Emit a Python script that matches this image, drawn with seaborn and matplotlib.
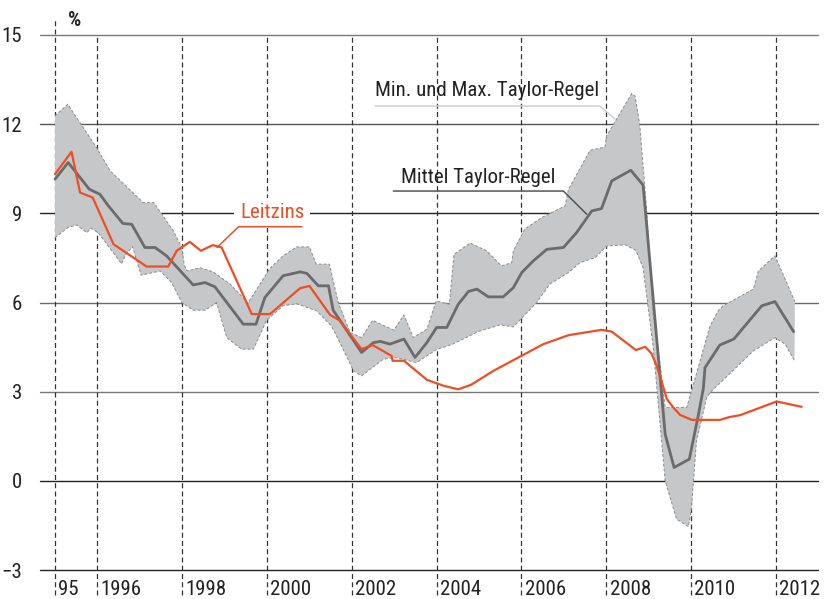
import numpy as np
import pandas as pd
import matplotlib
matplotlib.use("Agg")
import matplotlib.pyplot as plt
from matplotlib import font_manager as fm
import seaborn as sns

# Leitzins (policy rate), decimal years / percent
leitzins_t = [1995.0, 1995.39, 1995.59, 1995.89, 1996.38, 1997.16, 1997.67, 1997.87,
              1998.18, 1998.44, 1998.72, 1998.93, 1999.64, 2000.07, 2000.78, 2001.0,
              2001.49, 2001.71, 2002.23, 2002.49, 2002.94, 2002.96, 2003.23, 2003.77,
              2004.16, 2004.51, 2004.81, 2005.34, 2005.81, 2006.52, 2007.11, 2007.89,
              2008.13, 2008.7, 2008.92, 2009.07, 2009.19, 2009.35, 2009.43, 2009.58,
              2009.74, 2010.02, 2010.68, 2010.92, 2011.16, 2012.02, 2012.61]
leitzins_v = [10.32, 11.07, 9.70, 9.53, 7.96, 7.21, 7.21, 7.74,
              8.04, 7.74, 7.93, 7.85, 5.61, 5.61, 6.48, 6.56,
              5.58, 5.40, 4.43, 4.57, 4.20, 4.04, 4.04, 3.40,
              3.20, 3.08, 3.23, 3.70, 4.06, 4.60, 4.90, 5.08,
              5.02, 4.40, 4.51, 4.28, 3.87, 3.14, 2.75, 2.47,
              2.22, 2.05, 2.05, 2.15, 2.21, 2.67, 2.49]

# Mittel Taylor-Regel
mittel_t = [1995.0, 1995.31, 1995.81, 1996.06, 1996.26, 1996.6, 1996.81, 1997.12,
            1997.36, 1997.63, 1998.26, 1998.54, 1998.77, 1999.44, 1999.74, 1999.95,
            2000.38, 2000.78, 2000.94, 2001.21, 2001.45, 2001.56, 2002.23, 2002.51,
            2002.67, 2002.9, 2003.23, 2003.49, 2003.77, 2004.0, 2004.24, 2004.51,
            2004.75, 2004.95, 2005.22, 2005.57, 2005.81, 2006.01, 2006.28, 2006.6,
            2006.99, 2007.3, 2007.66, 2007.89, 2008.13, 2008.58, 2008.87, 2009.39,
            2009.6, 2009.96, 2010.17, 2010.29, 2010.33, 2010.68, 2011.01, 2011.67,
            2011.98, 2012.42]
mittel_v = [10.15, 10.71, 9.81, 9.64, 9.25, 8.66, 8.63, 7.85,
            7.85, 7.57, 6.59, 6.67, 6.53, 5.27, 5.27, 6.17,
            6.90, 7.03, 6.98, 6.56, 6.56, 5.74, 4.32, 4.65,
            4.69, 4.60, 4.77, 4.15, 4.65, 5.16, 5.16, 5.94,
            6.37, 6.45, 6.19, 6.19, 6.50, 7.01, 7.40, 7.79,
            7.85, 8.35, 9.08, 9.16, 10.09, 10.45, 9.95, 1.57,
            0.45, 0.73, 2.19, 3.10, 3.81, 4.57, 4.77, 5.89,
            6.03, 5.02]

# Max. Taylor-Regel (upper edge of band)
max_t = [1995.0, 1995.3, 1995.98, 1996.3, 1997.08, 1997.33, 1997.79, 1997.99,
         1998.05, 1998.12, 1998.42, 1998.73, 1999.13, 1999.55, 2000.07, 2000.38,
         2000.7, 2001.0, 2001.16, 2001.47, 2001.68, 2001.96, 2002.23, 2002.49,
         2002.99, 2003.23, 2003.45, 2003.77, 2003.99, 2004.3, 2004.41, 2004.79,
         2005.18, 2005.53, 2005.77, 2005.81, 2006.08, 2006.48, 2007.03, 2007.11,
         2007.62, 2007.97, 2008.01, 2008.6, 2008.68, 2008.79, 2008.96, 2009.11,
         2009.27, 2009.39, 2009.9, 2010.45, 2010.64, 2010.76, 2011.47, 2011.59,
         2011.98, 2012.45]
max_v = [12.28, 12.67, 11.21, 10.43, 9.36, 9.36, 8.41, 7.85,
         7.25, 7.06, 7.17, 7.03, 6.62, 5.98, 7.15, 7.57,
         7.87, 7.87, 7.29, 7.29, 6.00, 4.99, 4.82, 5.40,
         5.07, 5.58, 4.82, 5.10, 6.05, 5.94, 7.62, 8.00,
         7.74, 7.23, 7.34, 7.74, 8.47, 8.86, 9.25, 9.81,
         11.12, 11.23, 11.60, 13.03, 12.95, 12.00, 9.00, 5.60,
         3.93, 2.47, 2.47, 5.21, 5.72, 5.89, 6.45, 7.06,
         7.57, 6.03]

# Min. Taylor-Regel (lower edge of band)
min_t = [1995.0, 1995.3, 1995.51, 1995.75, 1995.85, 1996.02, 1996.57, 1996.67,
         1996.83, 1997.03, 1997.48, 1997.75, 1997.99, 1998.26, 1998.54, 1998.81,
         1999.05, 1999.4, 1999.68, 1999.99, 2000.38, 2000.7, 2001.17, 2001.52,
         2001.72, 2002.04, 2002.23, 2002.74, 2003.02, 2003.53, 2004.0, 2004.35,
         2004.98, 2005.5, 2005.81, 2006.36, 2006.67, 2007.11, 2007.38, 2007.74,
         2008.01, 2008.45, 2008.7, 2008.87, 2009.11, 2009.39, 2009.66, 2009.94,
         2010.01, 2010.13, 2010.37, 2010.45, 2011.47, 2011.98, 2012.22, 2012.44]
min_v = [8.18, 8.52, 8.61, 8.35, 8.50, 8.35, 7.30, 7.62,
         7.88, 6.92, 7.06, 6.67, 6.00, 5.74, 5.74, 6.00,
         4.82, 4.43, 4.43, 5.40, 5.89, 5.96, 5.72, 5.21,
         4.65, 3.70, 3.53, 4.09, 4.15, 3.98, 4.42, 4.58,
         5.02, 5.25, 5.18, 6.00, 6.62, 7.01, 7.34, 7.51,
         7.90, 7.94, 7.75, 7.17, 4.48, 0.00, -1.29, -1.54,
         -0.90, 1.35, 2.80, 2.97, 4.37, 4.82, 4.60, 4.04]

y_ticks = [15, 12, 9, 6, 3, 0, -3]
y_tick_labels = ["15", "12", "9", "6", "3", "0", "\u22123"]
grid_colors = ["#7a7a7a", "#555555", "#222222", "#6a6a6a", "#777777", "#222222", "#222222"]
year_lines = [1995, 1996, 1998, 2000, 2002, 2004, 2006, 2008, 2010, 2012]
year_labels = ["95", "1996", "1998", "2000", "2002", "2004", "2006", "2008", "2010", "2012"]

ORANGE = "#ef4d25"
MID_GRAY = "#6b6b6b"
BAND = "#c6c7c9"


def pick_font():
    fonts = fm.fontManager.ttflist
    names = {f.name for f in fonts}
    for n in ["Liberation Sans Narrow", "Roboto Condensed", "Noto Sans Condensed",
              "Open Sans Condensed", "DejaVu Sans Condensed", "Arial Narrow"]:
        if n in names:
            return n, "normal", 15
    for fam in ["DejaVu Sans", "Noto Sans", "Open Sans", "Roboto"]:
        for f in fonts:
            st = f.stretch
            narrow = ("condensed" in str(st).lower()) or (isinstance(st, int) and st < 500)
            if f.name == fam and narrow:
                return fam, "condensed", 15
    return "Roboto", "normal", 13


sns.set_style("white")
FONT, STRETCH, FS = pick_font()
plt.rcParams["font.family"] = [FONT, "DejaVu Sans"]
plt.rcParams["font.stretch"] = STRETCH

fig = plt.figure(figsize=(8.24, 5.99), dpi=100)
ax = fig.add_axes([40 / 824, 29 / 599, 778 / 824, 535 / 599])
ax.set_xlim(1994.646, 2012.995)
ax.set_ylim(-3, 15)

# horizontal reference lines
for yv, c in zip(y_ticks, grid_colors):
    ax.axhline(yv, color=c, lw=1.0, zorder=1, clip_on=False)

# dashed year separators
for yr in year_lines:
    top = 1.028 if yr == 1995 else 1.0
    ax.axvline(yr, ymin=-0.047, ymax=top, color="#333333", lw=0.9,
               ls=(0, (4, 2.6)), zorder=1, clip_on=False)

# band between min and max Taylor rule
band_x = np.concatenate([max_t, min_t[::-1]])
band_y = np.concatenate([max_v, min_v[::-1]])
ax.fill(band_x, band_y, color=BAND, lw=0, zorder=2)
ax.plot(max_t, max_v, color="#8c8c8c", lw=0.7, ls=(0, (3, 2)), zorder=3)
ax.plot(min_t, min_v, color="#8c8c8c", lw=0.7, ls=(0, (3, 2)), zorder=3)

df_mid = pd.DataFrame({"t": mittel_t, "v": mittel_v})
df_rate = pd.DataFrame({"t": leitzins_t, "v": leitzins_v})
sns.lineplot(data=df_mid, x="t", y="v", ax=ax, color=MID_GRAY, lw=2.0, sort=False, zorder=4)
sns.lineplot(data=df_rate, x="t", y="v", ax=ax, color=ORANGE, lw=1.6, sort=False, zorder=5)

# annotations
ax.text(2005.19, 13.14, "Min. und Max. Taylor-Regel", fontsize=FS, color="#222222",
        ha="center", va="center", zorder=6)
ax.plot([2002.55, 2007.85, 2008.21], [12.61, 12.61, 12.17], color="#cfcfcf", lw=1.1, zorder=6)

ax.text(2004.98, 10.22, "Mittel Taylor-Regel", fontsize=FS, color="#222222",
        ha="center", va="center", zorder=6)
ax.plot([2002.98, 2006.99, 2007.54], [9.75, 9.75, 8.97], color="#555555", lw=1.1, zorder=6)

ax.text(2000.12, 9.02, "Leitzins", fontsize=FS, color=ORANGE, ha="center", va="center",
        zorder=6, bbox=dict(facecolor="white", edgecolor="none", pad=4))
ax.plot([2000.82, 1999.33, 1998.82], [8.55, 8.55, 7.85], color=ORANGE, lw=1.1, zorder=6)

ax.text(1995.47, 15.48, "%", fontsize=FS, fontweight="bold", color="#222222",
        ha="center", va="center")

ax.set_yticks(y_ticks)
ax.set_yticklabels(y_tick_labels, fontsize=FS, color="#222222")
ax.tick_params(axis="y", length=0, pad=13)
ax.set_xticks([])
for yr, lab in zip(year_lines, year_labels):
    ax.text(yr + 0.08, -3.64, lab, fontsize=FS, color="#222222", ha="left", va="center",
            clip_on=False)

ax.set_xlabel("")
ax.set_ylabel("")
for s in ax.spines.values():
    s.set_visible(False)

fig.savefig("out.png", dpi=100)
